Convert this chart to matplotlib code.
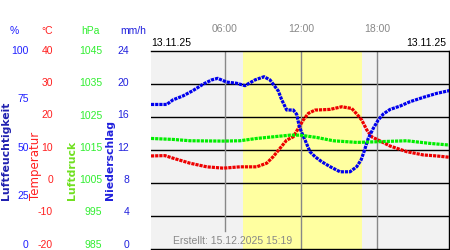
import matplotlib
matplotlib.use('Agg')
import matplotlib.pyplot as plt
import matplotlib.transforms as mtransforms

plt.rcParams['font.family'] = ['Liberation Sans', 'DejaVu Sans']
plt.rcParams['axes.unicode_minus'] = False

hum_t = [0.16, 1.40, 1.89, 2.68, 3.47, 4.26, 4.95, 5.42, 6.13, 6.92, 7.58, 8.37,
         9.08, 9.55, 9.95, 10.21, 10.48, 10.87, 11.39, 11.66, 11.87, 12.06, 12.32,
         12.71, 13.11, 13.63, 14.29, 15.08, 15.87, 16.40, 16.74, 16.97, 17.31,
         17.71, 18.10, 18.50, 19.03, 19.82, 20.61, 21.66, 22.71, 23.71]
hum_v = [73, 73, 75.3, 77.3, 80, 83.2, 85.4, 86.2, 84.3, 83.7, 82.5, 85.4,
         87, 85.4, 82, 79.8, 75.3, 70.2, 70.2, 68, 61.8, 58.7, 55,
         49.1, 46.6, 44.1, 41.6, 39, 39, 41.6, 45, 49.1, 55.9,
         61, 65.2, 68.2, 70.5, 72.2, 74.4, 76.6, 78.6, 80]

temp_t = [0.16, 1.26, 1.92, 3.24, 4.56, 5.87, 7.18, 8.50, 9.29, 9.81, 10.34, 10.87,
          11.39, 11.87, 12.18, 12.58, 13.11, 14.29, 15.21, 16.0, 16.40, 16.79,
          17.19, 17.58, 18.10, 19.03, 20.34, 21.66, 22.71, 23.71]
temp_v = [8.2, 8.3, 7.5, 6.0, 4.9, 4.5, 4.9, 4.9, 6.0, 8.0, 10.5, 13.0,
          14.0, 17.1, 19.1, 21.1, 22.1, 22.3, 23.1, 22.6, 20.9, 19.1,
          16.1, 14.0, 13.0, 11.2, 9.5, 8.5, 8.2, 7.8]

pres_t = [0.16, 1.92, 3.24, 5.87, 7.18, 8.50, 9.81, 11.13, 11.92, 13.24, 14.55,
          16.40, 18.0, 20.34, 22.18, 23.71]
pres_v = [1018.5, 1018.2, 1017.8, 1017.7, 1017.8, 1018.5, 1019, 1019.5, 1019.5,
          1018.8, 1017.8, 1017.3, 1017.5, 1017.8, 1017, 1016.5]

day_start, day_end = 7.45, 16.8
time_ticks = [6, 12, 18]
time_labels = ['06:00', '12:00', '18:00']

hum_ticks = [0, 25, 50, 75, 100]
temp_ticks = [-20, -10, 0, 10, 20, 30, 40]
pres_ticks = [985, 995, 1005, 1015, 1025, 1035, 1045]
rain_ticks = [0, 4, 8, 12, 16, 20, 24]

fig = plt.figure(figsize=(4.5, 2.5), dpi=100)
ax = fig.add_axes([151/450, 1/250, 298/450, 198/250])
ax.set_facecolor('#f2f2f2')
ax.set_xlim(0.16, 23.68)
ax.set_ylim(-20, 40)
ax.axvspan(day_start, day_end, color='#ffffa0', lw=0, zorder=0)
for t in temp_ticks[1:-1]:
    ax.axhline(t, color='black', lw=1, zorder=1)
for t in time_ticks:
    ax.axvline(t, ymin=0.09 if t == 6 else 0, color='#888888', lw=1, zorder=1)
for s in ax.spines.values():
    s.set_color('black')
    s.set_linewidth(1)

ax.xaxis.tick_top()
ax.set_xticks(time_ticks)
ax.set_xticklabels(time_labels)
ax.tick_params(axis='x', length=0, pad=12, colors='#888888', labelsize=7.5)

ax_h = ax.twinx()
ax_h.set_ylim(0, 100)
ax_p = ax.twinx()
ax_p.set_ylim(985, 1045)
ax_r = ax.twinx()
ax_r.set_ylim(0, 24)

dots = dict(ls=(0, (1, 0.3)), lw=2.3, dash_capstyle='butt', zorder=3)
ax_p.plot(pres_t, pres_v, color='#00ee00', **dots)
ax.plot(temp_t, temp_v, color='#ee0000', **dots)
ax_h.plot(hum_t, hum_v, color='#0000ee', **dots)

axis_setup = [(ax_h, hum_ticks, '#2020ff', 88),
              (ax, temp_ticks, '#ff2020', 70.5),
              (ax_p, pres_ticks, '#30ee30', 35.3),
              (ax_r, rain_ticks, '#2020dd', 15.8)]
for a, ticks, col, off in axis_setup:
    a.yaxis.tick_left()
    a.set_yticks(ticks)
    a.tick_params(axis='y', length=0, pad=0, colors=col, labelsize=7.5)
    a.spines['left'].set_position(('outward', off))
    a.spines['left'].set_visible(False)
    if a is not ax:
        a.spines['right'].set_visible(False)
        a.spines['top'].set_visible(False)
        a.spines['bottom'].set_visible(False)
    # labels sit a little higher towards the bottom
    for i, tick in enumerate(a.yaxis.get_major_ticks()):
        frac = i / (len(ticks) - 1)
        dy = (1 + 4.5 * (1 - frac)) / 100
        tick.label1.set_transform(tick.label1.get_transform() +
                                  mtransforms.ScaledTranslation(0, dy, fig.dpi_scale_trans))

ax.annotate('13.11.25', xy=(0, 1), xycoords='axes fraction', xytext=(0, 2),
            textcoords='offset points', ha='left', va='bottom', fontsize=7.5, color='black')
ax.annotate('13.11.25', xy=(1, 1), xycoords='axes fraction', xytext=(-2, 2),
            textcoords='offset points', ha='right', va='bottom', fontsize=7.5, color='black')
ax.text(0.075, 0.015, 'Erstellt: 15.12.2025 15:19', transform=ax.transAxes,
        ha='left', va='bottom', fontsize=7.5, color='#888888', zorder=4)

for x, s, col in [(14, '%', '#2020ff'), (47, '°C', '#ff2020'), (90, 'hPa', '#30ee30'),
                  (133, 'mm/h', '#2020dd')]:
    fig.text(x/450, 1 - 31/250, s, ha='center', va='center', fontsize=7.5, color=col)

for x, s, col, w, fs in [(6, 'Luftfeuchtigkeit', '#2020b0', 'bold', 7.8),
                         (36, 'Temperatur', '#ff2020', 'normal', 8.5),
                         (71.5, 'Luftdruck', '#70e020', 'bold', 7.8),
                         (110, 'Niederschlag', '#2020dd', 'bold', 7.8)]:
    fig.text(x/450, 1 - 200/250, s, rotation=90, ha='center', va='bottom',
             fontsize=fs, color=col, weight=w, family='DejaVu Sans')

fig.savefig('out.png', dpi=100)
